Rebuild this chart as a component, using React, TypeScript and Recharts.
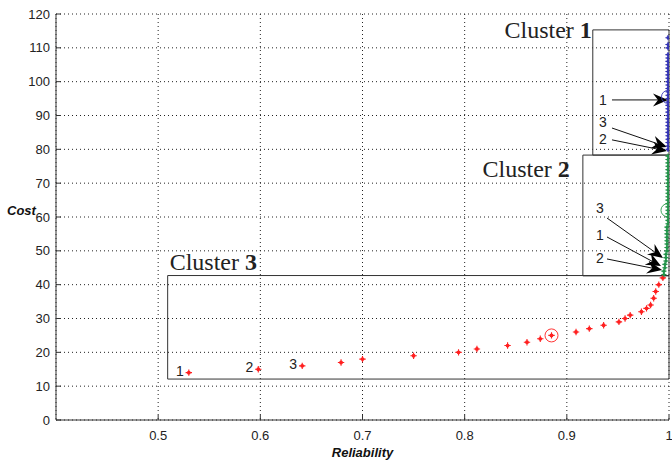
import {
  ScatterChart,
  Scatter,
  XAxis,
  YAxis,
  CartesianGrid,
  ReferenceArea,
  ReferenceLine,
} from 'recharts'

// cluster 3 (red)
const reliability3 = [
  0.53, 0.598, 0.641, 0.679, 0.7, 0.75, 0.794, 0.812, 0.842, 0.861, 0.874, 0.885, 0.909,
  0.922, 0.936, 0.951, 0.957, 0.962, 0.973, 0.978, 0.982, 0.985, 0.987, 0.99, 0.994,
]
const cost3 = [
  14, 15, 16, 17, 18, 19, 20, 21, 22, 23, 24, 25, 26, 27, 28, 29, 30, 31, 32, 33, 34, 36, 38, 40, 42,
]
const tags3 = ['1', '2', '3']

// cluster 2 (green)
const reliability2 = [
  0.995, 0.995, 0.996, 0.996, 0.997, 0.997, 0.997, 0.998, 0.998, 0.998, 0.998, 0.998, 0.998,
  0.998, 0.998, 0.999, 0.999, 0.999, 0.999, 0.999, 0.999, 0.999, 0.999, 0.999, 0.999, 0.999,
  0.999, 0.999, 0.999, 0.999, 0.999, 0.999, 0.999, 0.999, 0.999, 0.999,
]
const cost2 = [
  43, 44, 45, 46, 47, 48, 49, 50, 51, 52, 53, 54, 55, 56, 57, 58, 59, 60, 61, 62, 63, 64, 65, 66,
  67, 68, 69, 70, 71, 72, 73, 74, 75, 76, 77, 78,
]

// cluster 1 (blue)
const reliability1 = [
  0.999, 0.999, 0.999, 0.999, 0.999, 0.999, 0.999, 0.999, 0.999, 0.999, 0.999, 0.999, 0.999,
  0.999, 0.999, 0.999, 0.999, 0.999, 0.999, 0.999, 0.999, 0.999, 0.999, 0.999, 0.999, 0.999,
  0.999, 0.999, 0.999, 0.999, 0.999, 0.999,
]
const cost1 = [
  80, 81, 82, 83, 84, 85, 86, 87, 88, 89, 90, 91, 92, 93, 94, 95, 96, 97, 98, 99, 100, 101, 102,
  103, 104, 105, 106, 107, 108, 110, 111, 113,
]

// circled (selected) solutions
const circledRel = [0.885, 0.9985, 0.999]
const circledCost = [25, 62, 95.5]
const circledColor = ['#ff2020', '#2a9a4a', '#3a3ab8']

const xTicks = [0.5, 0.6, 0.7, 0.8, 0.9, 1]
const yTicks = [0, 10, 20, 30, 40, 50, 60, 70, 80, 90, 100, 110, 120]

// cluster boxes: [x1, x2, y1, y2]
const clusterNames = ['1', '2', '3']
const clusterBoxes = [
  [0.9254, 1, 78.3, 115.3],
  [0.9157, 1, 42.6, 78.3],
  [0.5093, 1, 12.1, 42.7],
]

// arrows: from -> to, in data units
const arrows = [
  { from: [0.9442, 94.6], to: [0.999, 94.6] },
  { from: [0.9442, 86.3], to: [0.998, 80.7] },
  { from: [0.9442, 82.8], to: [0.998, 79.5] },
  { from: [0.9393, 59.7], to: [0.9941, 47.9] },
  { from: [0.9393, 54.1], to: [0.9922, 45.5] },
  { from: [0.9393, 47.6], to: [0.9932, 44.3] },
]
const arrowText = ['1', '3', '2', '3', '1', '2']
const arrowTextRel = [0.9354, 0.9354, 0.9354, 0.9324, 0.9324, 0.9324]
const arrowTextCost = [94.6, 88.0, 83.2, 62.7, 54.7, 47.9]

const red = '#ff2020'
const green = '#23934a'
const blue = '#3434b4'

const toPoints = (xs: number[], ys: number[]) => xs.map((x, i) => ({ x, y: ys[i] }))

const data3 = reliability3.map((x, i) => ({ x, y: cost3[i], tag: tags3[i] }))
const data2 = toPoints(reliability2, cost2)
const data1 = toPoints(reliability1, cost1)
const circled = circledRel.map((x, i) => ({ x, y: circledCost[i], color: circledColor[i] }))
const numberLabels = arrowText.map((t, i) => ({ x: arrowTextRel[i], y: arrowTextCost[i], text: t }))

const star = (color: string, s: number) => (p: any) => {
  const { cx, cy } = p
  if (cx == null || cy == null) return <g />
  return (
    <g>
      <circle cx={cx} cy={cy} r={s * 0.6} fill={color} />
      <path
        d={`M${cx - s},${cy}L${cx + s},${cy}M${cx},${cy - s}L${cx},${cy + s}`}
        stroke={color}
        strokeWidth={1.1}
      />
    </g>
  )
}

const ArrowShape = (p: any) => {
  const { x1, y1, x2, y2 } = p
  const dx = x2 - x1
  const dy = y2 - y1
  const len = Math.sqrt(dx * dx + dy * dy) || 1
  const ux = dx / len
  const uy = dy / len
  const L = 15
  const W = 6.5
  const bx = x2 - ux * L
  const by = y2 - uy * L
  const nx = x2 - ux * (L - 5)
  const ny = y2 - uy * (L - 5)
  const head = `M${x2},${y2}L${bx - uy * W},${by + ux * W}L${nx},${ny}L${bx + uy * W},${by - ux * W}Z`
  return (
    <g>
      <line x1={x1} y1={y1} x2={nx} y2={ny} stroke="#111" strokeWidth={1} />
      <path d={head} fill="#000" />
    </g>
  )
}

const clusterLabelPos = [
  { dx: -1, dy: 8, anchor: 'end' },
  { dx: -13, dy: 22, anchor: 'end' },
  { dx: 2, dy: -6, anchor: 'start' },
]

const makeClusterLabel = (i: number) => (props: any) => {
  const vb = props.viewBox || {}
  const pos = clusterLabelPos[i]
  return (
    <text
      x={vb.x + pos.dx}
      y={vb.y + pos.dy}
      textAnchor={pos.anchor}
      fontFamily="'Liberation Serif', serif"
      fontSize={24}
      fill="#222"
    >
      Cluster <tspan fontWeight="bold">{clusterNames[i]}</tspan>
    </text>
  )
}

const axisFont = { fontFamily: "'Liberation Sans', Arial, sans-serif", fontSize: 13, fill: '#222' }
const titleFont = {
  fontFamily: "'Liberation Sans', Arial, sans-serif",
  fontSize: 13,
  fontWeight: 'bold',
  fontStyle: 'italic',
  fill: '#111',
}

export default function App() {
  return (
    <div style={{ position: 'absolute', left: 0, top: 0, background: '#fff' }}>
      <ScatterChart width={672} height={462} margin={{ top: 14, right: 3, left: 0, bottom: 0 }}>
        <CartesianGrid stroke="#222" strokeDasharray="1 3" xAxisId={0} yAxisId={0} />
        <XAxis
          dataKey="x"
          type="number"
          domain={[0.4, 1]}
          ticks={xTicks}
          interval={0}
          allowDataOverflow
          height={42}
          tickSize={-5}
          tickMargin={16}
          stroke="#333"
          tick={axisFont}
          tickFormatter={(v: number) => String(v)}
          label={{ value: 'Reliability', position: 'insideBottom', offset: 5, style: titleFont }}
        />
        <XAxis
          xAxisId="top"
          orientation="top"
          type="number"
          domain={[0.4, 1]}
          ticks={xTicks}
          height={0}
          tickSize={-5}
          tick={false}
          stroke="#333"
        />
        <YAxis
          dataKey="y"
          type="number"
          domain={[0, 120]}
          ticks={yTicks}
          interval={0}
          allowDataOverflow
          width={56}
          tickSize={-5}
          tickMargin={11}
          stroke="#333"
          tick={axisFont}
          label={{ value: 'Cost', position: 'insideLeft', offset: 7, dy: -7, style: titleFont }}
        />
        <YAxis
          yAxisId="right"
          orientation="right"
          type="number"
          domain={[0, 120]}
          ticks={yTicks}
          width={0}
          tickSize={-5}
          tick={false}
          stroke="#333"
        />
        {clusterBoxes.map((b, i) => (
          <ReferenceArea
            key={'box' + i}
            x1={b[0]}
            x2={b[1]}
            y1={b[2]}
            y2={b[3]}
            fill="none"
            fillOpacity={0}
            stroke="#333"
            strokeWidth={1}
            ifOverflow="visible"
            label={makeClusterLabel(i)}
          />
        ))}
        <Scatter data={data3} fill={red} shape={star(red, 3.2)} isAnimationActive={false} />
        <Scatter data={data2} fill={green} shape={star(green, 2.6)} isAnimationActive={false} />
        <Scatter data={data1} fill={blue} shape={star(blue, 2.6)} isAnimationActive={false} />
        <Scatter
          data={circled}
          isAnimationActive={false}
          shape={(p: any) => (
            <circle cx={p.cx} cy={p.cy} r={6.5} fill="none" stroke={p.payload.color} strokeWidth={0.9} />
          )}
        />
        <Scatter
          data={data3.slice(0, 3)}
          isAnimationActive={false}
          shape={(p: any) => (
            <text
              x={p.cx - 9}
              y={p.cy - 2}
              textAnchor="middle"
              dominantBaseline="central"
              fontFamily="'Liberation Sans', Arial, sans-serif"
              fontSize={14}
              fill="#222"
            >
              {p.payload.tag}
            </text>
          )}
        />
        <Scatter
          data={numberLabels}
          isAnimationActive={false}
          shape={(p: any) => (
            <text
              x={p.cx}
              y={p.cy}
              textAnchor="middle"
              dominantBaseline="central"
              fontFamily="'Liberation Sans', Arial, sans-serif"
              fontSize={14}
              fill="#222"
            >
              {p.payload.text}
            </text>
          )}
        />
        {arrows.map((a, i) => (
          <ReferenceLine
            key={'arr' + i}
            segment={[
              { x: a.from[0], y: a.from[1] },
              { x: a.to[0], y: a.to[1] },
            ]}
            ifOverflow="visible"
            shape={ArrowShape}
          />
        ))}
      </ScatterChart>
    </div>
  )
}
